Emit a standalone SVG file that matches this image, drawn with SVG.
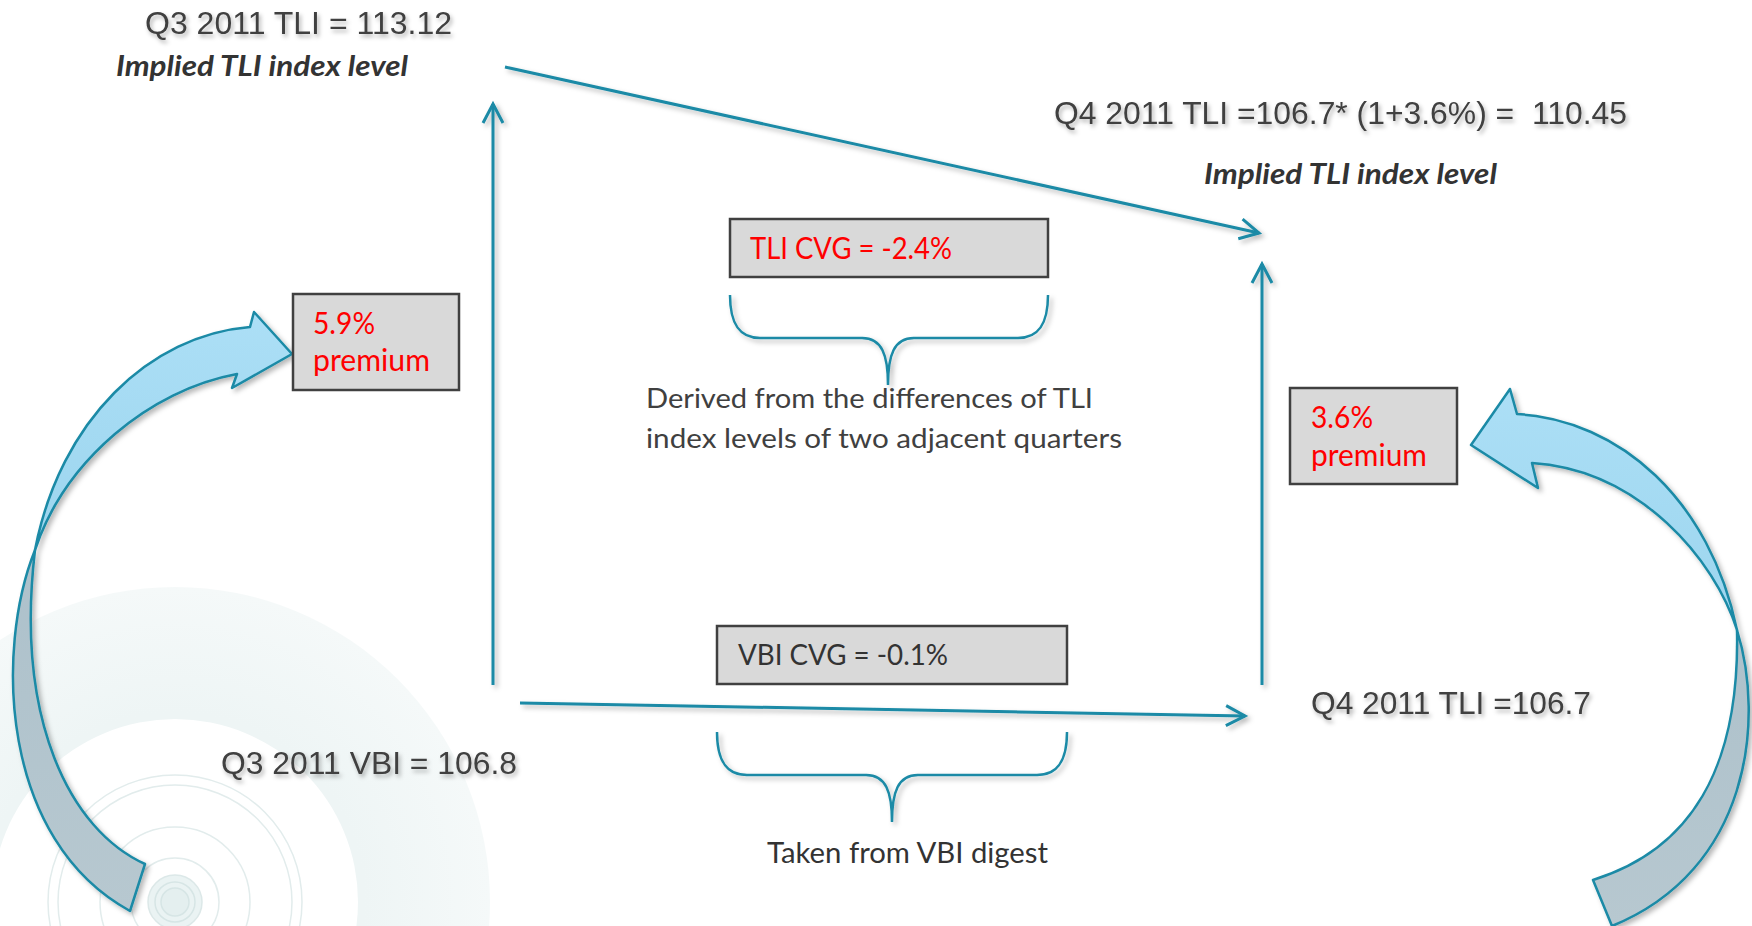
<svg xmlns="http://www.w3.org/2000/svg" width="1752" height="926" viewBox="0 0 1752 926">
<defs>
<style>
.arial{font-family:"Liberation Sans",Arial,sans-serif;font-size:32px;fill:#404040;white-space:pre;}
.impl{font-family:Lato,"Open Sans",sans-serif;font-weight:bold;font-style:italic;font-size:28px;fill:#333333;}
.cal{font-family:Lato,"Open Sans",sans-serif;font-size:27px;fill:#404040;}
.box{fill:#D9D9D9;stroke:#404040;stroke-width:2.5;}
.red{font-family:Lato,"Open Sans",sans-serif;font-size:30px;fill:#FF0000;}
.dark{font-family:Lato,"Open Sans",sans-serif;font-size:28px;fill:#333333;}
.conn{stroke:#1A8AA6;stroke-width:3;fill:none;}
.brace{stroke:#1A8AA6;stroke-width:2.5;fill:none;}
.front{fill:url(#gFront);stroke:#1A8AA6;stroke-width:2.5;stroke-linejoin:round;}
.back{fill:url(#gBack);stroke:#1A8AA6;stroke-width:2.5;stroke-linejoin:round;}
.ring{fill:none;stroke:#E2ECEC;stroke-width:1.5;}
</style>
<linearGradient id="gFront" x1="0" y1="0" x2="0" y2="1">
<stop offset="0" stop-color="#ACDFF6"/>
<stop offset="1" stop-color="#9CD5EE"/>
</linearGradient>
<linearGradient id="gBack" x1="0" y1="0" x2="0" y2="1">
<stop offset="0" stop-color="#ADC1CB"/>
<stop offset="1" stop-color="#B7C8D0"/>
</linearGradient>
<radialGradient id="gDisc" cx="175" cy="902" r="315" gradientUnits="userSpaceOnUse">
<stop offset="0.6" stop-color="#EEF5F5"/>
<stop offset="1" stop-color="#F5F9F9"/>
</radialGradient>
<filter id="sh" filterUnits="userSpaceOnUse" x="0" y="0" width="1752" height="926">
<feDropShadow dx="3" dy="3" stdDeviation="2.5" flood-color="#000000" flood-opacity="0.28"/>
</filter>
<filter id="tsh" filterUnits="userSpaceOnUse" x="0" y="0" width="1752" height="926">
<feDropShadow dx="2" dy="3" stdDeviation="2" flood-color="#000000" flood-opacity="0.3"/>
</filter>
<marker id="arr" markerUnits="userSpaceOnUse" viewBox="-22 -12 24 24" markerWidth="24" markerHeight="24" refX="0" refY="0" orient="auto" overflow="visible">
<path d="M -19,-10 L 0,0 L -19,10" fill="none" stroke="#1A8AA6" stroke-width="3" stroke-linejoin="miter"/>
</marker>
</defs>

<rect width="1752" height="926" fill="#FFFFFF"/>

<g id="watermark">
<circle cx="175" cy="902" r="315" fill="url(#gDisc)"/>
<circle cx="175" cy="902" r="183" fill="#FFFFFF"/>
<circle cx="175" cy="902" r="127" class="ring"/>
<circle cx="175" cy="902" r="117" class="ring"/>
<circle cx="175" cy="902" r="75" class="ring"/>
<circle cx="175" cy="902" r="44" class="ring"/>
<circle cx="175" cy="902" r="27" fill="#EAF3F3" stroke="#DCE8E8" stroke-width="1.5"/>
<circle cx="175" cy="902" r="20" fill="none" stroke="#D6E5E5" stroke-width="1.5"/>
<circle cx="175" cy="902" r="14" fill="#E4EFEF" stroke="#D6E5E5" stroke-width="1.5"/>
</g>

<g id="connectors" filter="url(#sh)">
<path class="conn" d="M 493,685 L 493,104" marker-end="url(#arr)"/>
<path class="conn" d="M 505,67 L 1259,233" marker-end="url(#arr)"/>
<path class="conn" d="M 1262,685 L 1262,264" marker-end="url(#arr)"/>
<path class="conn" d="M 520,703 L 1245,716" marker-end="url(#arr)"/>
<path class="brace" d="M 730,295 C 730,325 740,338 760,338 L 862,338 C 882,338 888,355 888,385 C 888,355 894,338 914,338 L 1018,338 C 1038,338 1048,325 1048,295"/>
<path class="brace" d="M 717,732 C 717,762 727,775 747,775 L 866,775 C 886,775 892,792 892,822 C 892,792 898,775 918,775 L 1037,775 C 1057,775 1067,762 1067,732"/>
</g>

<g id="curved-arrow-left" filter="url(#sh)">
<path class="back" d="M 35,550 C -5,650 0,840 130,911 L 145,864 C 70,830 15,720 35,550 Z"/>
<path class="front" d="M 35,550 C 60,420 150,335 250,327 L 254,312 L 292,354 L 232,388 L 237,374 C 150,390 65,460 35,550 Z"/>
</g>

<g id="curved-arrow-right" filter="url(#sh)">
<path class="back" d="M 1737,630 C 1765,720 1750,870 1612,926 L 1593,880 C 1690,850 1740,770 1737,630 Z"/>
<path class="front" d="M 1737,630 C 1710,500 1620,420 1517,414 L 1510,389 L 1471,445 L 1538,488 L 1532,463 C 1640,470 1715,560 1737,630 Z"/>
</g>

<g id="q3-tli">
<text class="arial" x="145" y="34" textLength="307" lengthAdjust="spacingAndGlyphs" filter="url(#tsh)">Q3 2011 TLI = 113.12</text>
<text class="impl" x="116" y="76" textLength="292" lengthAdjust="spacingAndGlyphs">Implied TLI index level</text>
</g>

<g id="q4-tli-implied">
<text class="arial" x="1054" y="124" textLength="573" lengthAdjust="spacingAndGlyphs" filter="url(#tsh)">Q4 2011 TLI =106.7* (1+3.6%) =  110.45</text>
<text class="impl" x="1204" y="184" textLength="293" lengthAdjust="spacingAndGlyphs">Implied TLI index level</text>
</g>

<g id="tli-cvg">
<rect class="box" x="730" y="219" width="318" height="58"/>
<text class="red" x="750" y="259" textLength="202" lengthAdjust="spacingAndGlyphs">TLI CVG = -2.4%</text>
</g>

<g id="derived-note">
<text class="cal" x="646" y="408" textLength="447" lengthAdjust="spacingAndGlyphs">Derived from the differences of TLI</text>
<text class="cal" x="646" y="448" textLength="476" lengthAdjust="spacingAndGlyphs">index levels of two adjacent quarters</text>
</g>

<g id="premium-left">
<rect class="box" x="293" y="294" width="166" height="96"/>
<text class="red" x="313" y="334" textLength="62" lengthAdjust="spacingAndGlyphs">5.9%</text>
<text class="red" x="313" y="371" textLength="117" lengthAdjust="spacingAndGlyphs">premium</text>
</g>

<g id="premium-right">
<rect class="box" x="1290" y="388" width="167" height="96"/>
<text class="red" x="1311" y="428" textLength="62" lengthAdjust="spacingAndGlyphs">3.6%</text>
<text class="red" x="1311" y="466" textLength="116" lengthAdjust="spacingAndGlyphs">premium</text>
</g>

<g id="vbi-cvg">
<rect class="box" x="717" y="626" width="350" height="58"/>
<text class="dark" x="738" y="665" textLength="210" lengthAdjust="spacingAndGlyphs">VBI CVG = -0.1%</text>
</g>

<g id="vbi-note">
<text class="dark" x="767" y="863" textLength="281" lengthAdjust="spacingAndGlyphs">Taken from VBI digest</text>
</g>

<g id="q3-vbi">
<text class="arial" x="221" y="774" textLength="296" lengthAdjust="spacingAndGlyphs" filter="url(#tsh)">Q3 2011 VBI = 106.8</text>
</g>

<g id="q4-tli">
<text class="arial" x="1311" y="714" textLength="280" lengthAdjust="spacingAndGlyphs" filter="url(#tsh)">Q4 2011 TLI =106.7</text>
</g>
</svg>
